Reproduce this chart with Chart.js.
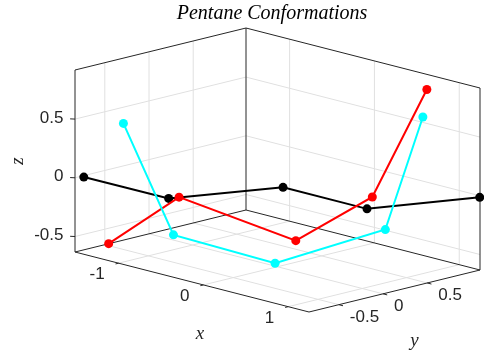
<!DOCTYPE html>
<html lang="en">
<head>
  <meta charset="UTF-8">
  <title>Pentane Conformations</title>
  <script src="https://cdn.jsdelivr.net/npm/chart.js"></script>
  <style>
    html, body { margin: 0; padding: 0; background: #fff; overflow: hidden; }
    .wrap { position: relative; width: 484px; height: 354px; }
  </style>
</head>
<body>
  <div class="wrap"><canvas id="pentane"></canvas></div>

  <script>
    // carbon positions of the three conformations (x, y, z)
    const blackX = [-1.48, -0.49, -0.09, 0.90, 1.28];
    const blackY = [-0.77, -0.76, 0.15, 0.15, 1.06];
    const blackZ = [0, 0, 0, 0, 0];

    const redX = [-1.51, -0.68, 0.05, 0.90, 0.98];
    const redY = [-0.46, -0.46, 0.16, 0.21, 0.75];
    const redZ = [-0.63, -0.08, -0.43, 0.09, 0.92];

    const cyanX = [-0.94, -0.35, -0.09, 0.72, 0.61];
    const cyanY = [-0.84, -0.84, 0.06, 0.53, 1.06];
    const cyanZ = [0.57, -0.27, -0.63, -0.28, 0.56];

    const xTicks = [-1, 0, 1];
    const yTicks = [-0.5, 0, 0.5];
    const zTicks = [-0.5, 0, 0.5];

    // tight axis limits
    const xLim = [-1.514, 1.245];
    const yLim = [-0.837, 1.097];
    const zLim = [-0.632, 0.918];

    // where the plot box sits on the canvas (3-D view, orthographic)
    const box = { ox: 75, oy: 252, u: [234, 60], v: [171, -42], w: [0, -182] };

    function proj(x, y, z) {
      const a = (x - xLim[0]) / (xLim[1] - xLim[0]);
      const b = (y - yLim[0]) / (yLim[1] - yLim[0]);
      const c = (z - zLim[0]) / (zLim[1] - zLim[0]);
      return {
        x: box.ox + a * box.u[0] + b * box.v[0] + c * box.w[0],
        y: box.oy + a * box.u[1] + b * box.v[1] + c * box.w[1]
      };
    }

    const GAP = { x: NaN, y: NaN };
    function seg(list, p, q) {
      list.push(proj(p[0], p[1], p[2]), proj(q[0], q[1], q[2]), GAP);
    }
    const series = (xs, ys, zs) => xs.map((x, i) => proj(x, ys[i], zs[i]));

    const [x0, x1] = xLim, [y0, y1] = yLim, [z0, z1] = zLim;
    const xr = x1 - x0, yr = y1 - y0;

    // grid on the floor and the two back walls
    const grid = [];
    xTicks.forEach(t => {
      seg(grid, [t, y0, z0], [t, y1, z0]);
      seg(grid, [t, y1, z0], [t, y1, z1]);
    });
    yTicks.forEach(t => {
      seg(grid, [x0, t, z0], [x1, t, z0]);
      seg(grid, [x0, t, z0], [x0, t, z1]);
    });
    zTicks.forEach(t => {
      seg(grid, [x0, y0, t], [x0, y1, t]);
      seg(grid, [x0, y1, t], [x1, y1, t]);
    });

    // box edges + tick marks
    const edges = [];
    seg(edges, [x0, y0, z0], [x1, y0, z0]);
    seg(edges, [x1, y0, z0], [x1, y1, z0]);
    seg(edges, [x1, y1, z0], [x0, y1, z0]);
    seg(edges, [x0, y1, z0], [x0, y0, z0]);
    seg(edges, [x0, y0, z0], [x0, y0, z1]);
    seg(edges, [x0, y1, z0], [x0, y1, z1]);
    seg(edges, [x1, y1, z0], [x1, y1, z1]);
    seg(edges, [x0, y0, z1], [x0, y1, z1]);
    seg(edges, [x0, y1, z1], [x1, y1, z1]);
    xTicks.forEach(t => seg(edges, [t, y0, z0], [t, y0 - 0.018 * yr, z0]));
    yTicks.forEach(t => seg(edges, [x1, t, z0], [x1 + 0.018 * xr, t, z0]));
    zTicks.forEach(t => seg(edges, [x0, y0, t], [x0 - 0.012 * xr, y0 - 0.012 * yr, t]));

    const textPlugin = {
      id: 'axisText',
      afterDraw(chart) {
        const ctx = chart.ctx, sx = chart.scales.x, sy = chart.scales.y;
        const at = p => [sx.getPixelForValue(p.x), sy.getPixelForValue(p.y)];
        ctx.save();
        ctx.fillStyle = '#262626';
        ctx.textBaseline = 'middle';
        ctx.font = '17px "Liberation Sans", Arial, sans-serif';

        ctx.textAlign = 'right';
        xTicks.forEach(t => {
          const [px, py] = at(proj(t, y0, z0));
          ctx.fillText(String(t), px - 14, py + 11.5);
        });
        ctx.textAlign = 'left';
        yTicks.forEach(t => {
          const [px, py] = at(proj(x1, t, z0));
          ctx.fillText(String(t), px + 11, py + 12.5);
        });
        ctx.textAlign = 'right';
        zTicks.forEach(t => {
          const [px, py] = at(proj(x0, y0, t));
          ctx.fillText(String(t), px - 11.5, py - 1);
        });

        // axis labels
        ctx.textAlign = 'center';
        ctx.font = 'italic 19px "Liberation Serif", "Times New Roman", serif';
        let [px, py] = at(proj((x0 + x1) / 2, y0, z0));
        ctx.fillText('x', px + 8, py + 52);
        [px, py] = at(proj(x1, (y0 + y1) / 2, z0));
        ctx.fillText('y', px + 20, py + 50);
        [px, py] = at(proj(x0, y0, (z0 + z1) / 2));
        ctx.save();
        ctx.translate(px - 57, py);
        ctx.rotate(-Math.PI / 2);
        ctx.fillText('z', 0, 0);
        ctx.restore();

        // title
        ctx.fillStyle = '#000';
        ctx.font = 'italic 20px "Liberation Serif", "Times New Roman", serif';
        [px, py] = at(proj(x0, y1, z1));
        ctx.fillText('Pentane Conformations', px + 26, py - 14);
        ctx.restore();
      }
    };

    const line = (data, color, order) => ({
      data: data,
      showLine: true,
      borderColor: color,
      backgroundColor: color,
      borderWidth: 2,
      pointRadius: 4.5,
      pointBorderWidth: 0,
      clip: false,
      order: order
    });

    new Chart(document.getElementById('pentane'), {
      type: 'scatter',
      data: {
        datasets: [
          line(series(cyanX, cyanY, cyanZ), '#00ffff', 1),
          line(series(redX, redY, redZ), '#ff0000', 2),
          line(series(blackX, blackY, blackZ), '#000000', 3),
          { data: edges, showLine: true, borderColor: '#262626', borderWidth: 1, pointRadius: 0, order: 4 },
          { data: grid, showLine: true, borderColor: '#e0e0e0', borderWidth: 1, pointRadius: 0, order: 5 }
        ]
      },
      options: {
        responsive: true,
        maintainAspectRatio: false,
        animation: false,
        events: [],
        layout: { padding: 0, autoPadding: false },
        plugins: { legend: { display: false }, tooltip: { enabled: false } },
        scales: {
          x: { type: 'linear', display: false, min: 0, max: 484 },
          y: { type: 'linear', display: false, min: 0, max: 354, reverse: true }
        }
      },
      plugins: [textPlugin]
    });
  </script>
</body>
</html>
